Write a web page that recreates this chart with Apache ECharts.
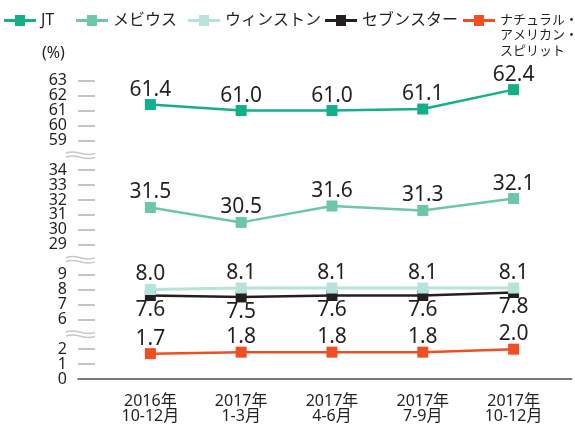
<!DOCTYPE html>
<html>
<head>
<meta charset="utf-8">
<script src="https://cdn.jsdelivr.net/npm/echarts@6/dist/echarts.min.js"></script>
<style>
  html, body {margin: 0; padding: 0; background: #fff;}
  #chart {width: 575px; height: 425px;}
</style>
</head>
<body>
<div id="chart"></div>
<script>
// Market share by brand, quarterly, on a broken y axis (0–2, 6–9, 29–34, 59–63).

const PERIODS = ["2016年\n10-12月", "2017年\n1-3月", "2017年\n4-6月", "2017年\n7-9月", "2017年\n10-12月"]

const JT = [61.4, 61.0, 61.0, 61.1, 62.4]
const MEVIUS = [31.5, 30.5, 31.6, 31.3, 32.1]
const WINSTON = [8.0, 8.1, 8.1, 8.1, 8.1]
const SEVEN_STARS = [7.6, 7.5, 7.6, 7.6, 7.8]
const NATURAL = [1.7, 1.8, 1.8, 1.8, 2.0]

// visible pieces of the y axis, in %
const Y_SEGMENTS = [[0, 2], [6, 9], [29, 34], [59, 63]]

const NATURAL_NAME = "ナチュラル・アメリカン・スピリット"
const NATURAL_LINES = ["ナチュラル・", "アメリカン・", "スピリット"]

const TEXT = "#231f20"
const FONT = "'Noto Sans', 'Noto Sans CJK JP', sans-serif"

// squeeze the real value onto one continuous scale, one slot left for each break
function toAxis(v) {
  let pos = 0
  for (let i = 0; i < Y_SEGMENTS.length; i++) {
    const [a, b] = Y_SEGMENTS[i]
    if (v <= b || i === Y_SEGMENTS.length - 1) return pos + (v - a)
    pos += (b - a) + 2
  }
}

const tickReal = []
const breakSlots = []
Y_SEGMENTS.forEach(([a, b], i) => {
  for (let v = a; v <= b; v++) tickReal.push(v)
  if (i < Y_SEGMENTS.length - 1) breakSlots.push(toAxis(b) + 1)
})
const tickAxis = tickReal.map(toAxis)
const tickText = {}
tickReal.forEach(v => { tickText[toAxis(v)] = String(v) })

// labels sit 15px apart, tighter than echarts allows next to the end labels,
// so they are shared out over two identical y axes
const labelsA = tickAxis.filter((v, i) => i % 2 === 0)
const labelsB = tickAxis.filter((v, i) => i % 2 === 1)

const X_MIN = -0.797
const X_MAX = 4.64

function lineSeries(name, values, color, labelPos, width, z) {
  return {
    name,
    type: "line",
    data: values.map((v, i) => [i, toAxis(v), v]),
    symbol: "rect",
    symbolSize: 11,
    z: z || 2,
    lineStyle: {color, width: width || 2.5},
    itemStyle: {color},
    label: {
      show: true,
      position: labelPos,
      distance: -1,
      color: TEXT,
      fontFamily: FONT,
      fontSize: 21,
      lineHeight: 21,
      formatter: p => p.data[2].toFixed(1),
    },
    emphasis: {disabled: true},
  }
}

function yAxisWith(labels, showTicks) {
  return {
    type: "value",
    position: "left",
    min: 0,
    max: toAxis(63),
    splitLine: {show: false},
    axisLine: {show: false, onZero: false},
    axisTick: {
      show: showTicks,
      inside: true,
      length: 17,
      customValues: tickAxis.filter(v => v !== 0),
      lineStyle: {color: "#b3b3b3", width: 1.5},
    },
    axisLabel: {
      customValues: labels,
      showMinLabel: true,
      showMaxLabel: true,
      margin: 11,
      color: TEXT,
      fontFamily: FONT,
      fontSize: 16,
      formatter: v => tickText[v] || "",
    },
  }
}

const LEGEND_ICON = "path://M0,4H11V0H21V4H32V7H21V11H11V7H0Z"

function legendAt(name, left, extra) {
  return Object.assign({
    data: [name],
    left,
    top: 12.5,
    padding: 0,
    icon: LEGEND_ICON,
    itemWidth: 32,
    itemHeight: 11,
    selectedMode: false,
    textStyle: {color: TEXT, fontFamily: FONT, fontSize: 16, lineHeight: 16},
  }, extra || {})
}

const chart = echarts.init(document.getElementById("chart"), null, {renderer: "canvas"})

chart.setOption({
  animation: false,
  backgroundColor: "#fff",
  title: {
    text: "(%)",
    left: 42,
    top: 45,
    padding: 0,
    textStyle: {color: TEXT, fontFamily: FONT, fontSize: 16, fontWeight: "normal"},
  },
  legend: [
    legendAt("JT", 4),
    legendAt("メビウス", 76),
    legendAt("ウィンストン", 188),
    legendAt("セブンスター", 325),
    legendAt(NATURAL_NAME, 463, {
      formatter: () => NATURAL_LINES[0],
      textStyle: {color: TEXT, fontFamily: FONT, fontSize: 13, lineHeight: 16},
    }),
  ],
  graphic: [
    {
      // the rest of the wrapped legend label
      type: "text",
      left: 500,
      top: 28,
      style: {
        text: NATURAL_LINES.slice(1).join("\n"),
        fill: TEXT,
        font: "13px " + FONT,
        lineHeight: 15.5,
      },
    },
  ],
  grid: {left: 78, right: 3.3, top: 80.7, bottom: 46, containLabel: false},
  xAxis: {
    type: "value",
    min: X_MIN,
    max: X_MAX,
    splitLine: {show: false},
    axisTick: {show: false},
    axisLine: {show: true, onZero: false, lineStyle: {color: "#4d4d4d", width: 1.5}},
    axisLabel: {
      customValues: [0, 1, 2, 3, 4],
      margin: 15,
      color: TEXT,
      fontFamily: FONT,
      fontSize: 16,
      lineHeight: 15,
      formatter: v => PERIODS[v] || "",
    },
    z: 5,
  },
  yAxis: [yAxisWith(labelsA, true), yAxisWith(labelsB, false)],
  series: [
    lineSeries("JT", JT, "#12b08a", "top"),
    lineSeries("メビウス", MEVIUS, "#6cc6aa", "top"),
    lineSeries("ウィンストン", WINSTON, "#b8e2dc", "top", 3, 4),
    lineSeries("セブンスター", SEVEN_STARS, "#231f20", "bottom", 2.5, 3),
    lineSeries(NATURAL_NAME, NATURAL, "#f04e23", "top"),
    {
      // wavy break marks on the y axis
      type: "custom",
      silent: true,
      z: 6,
      data: breakSlots.map(s => [X_MIN, s]),
      renderItem(params, api) {
        const [x, y] = api.coord([api.value(0), api.value(1)])
        const x1 = x - 12
        const x2 = x + 17
        const mk = dy => ({
          type: "bezierCurve",
          shape: {
            x1, y1: y + dy, x2, y2: y + dy,
            cpx1: x1 + 10, cpy1: y + dy - 5,
            cpx2: x2 - 10, cpy2: y + dy + 5,
          },
          style: {stroke: "#c8c8c8", lineWidth: 1.5, fill: null},
        })
        return {type: "group", children: [mk(-2), mk(2)]}
      },
    },
  ],
})
</script>
</body>
</html>
